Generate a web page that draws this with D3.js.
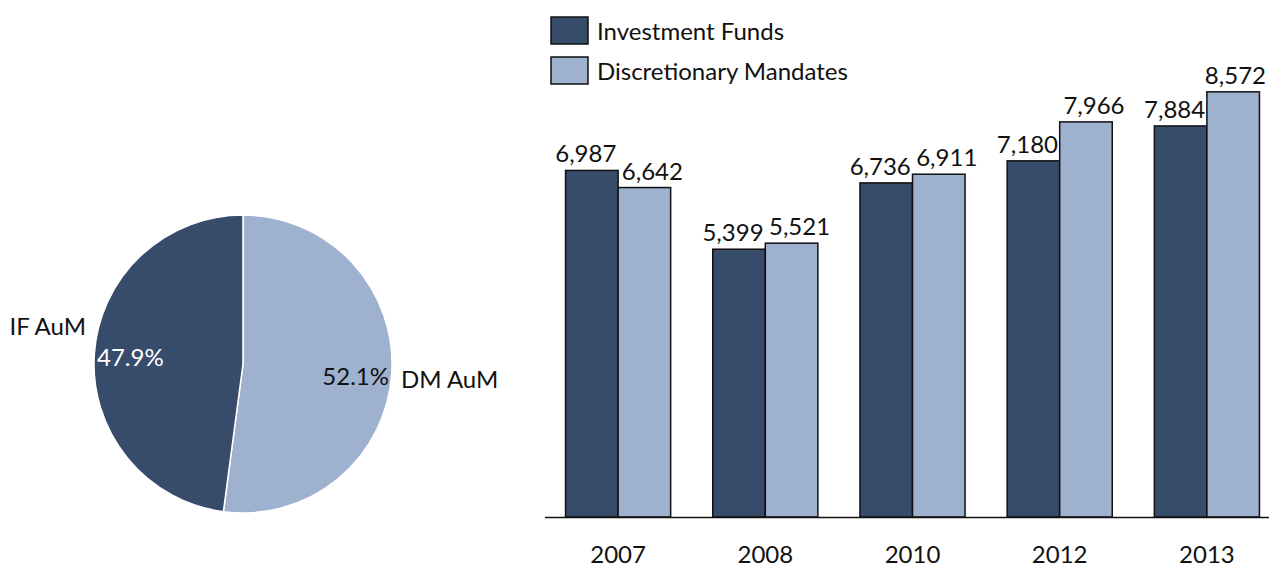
<!DOCTYPE html>
<html><head><meta charset="utf-8">
<script src="https://cdn.jsdelivr.net/npm/d3@7"></script>
<style>body{margin:0;background:#fff}svg{display:block}text{font-family:Lato,"Open Sans",sans-serif;fill:#111}</style>
</head><body><svg id="c" width="1269" height="569"></svg>
<script>
const years = ["2007","2008","2010","2012","2013"];
const investmentFunds = [6987,5399,6736,7180,7884];
const discretionaryMandates = [6642,5521,6911,7966,8572];
const seriesNames = ["Investment Funds","Discretionary Mandates"];
const pieLabels = ["DM AuM","IF AuM"];
const pieValues = [52.1,47.9];
const colors = ["#374b6b","#9eb1cf"];

const W = 1269;
const svg = d3.select("#c");
const fs = 24;

// Bars
const x0 = d3.scaleBand().domain(years).range([544.5,1280.5]).paddingInner(0.286).paddingOuter(0.143);
const x1 = d3.scaleBand().domain([0,1]).range([0,x0.bandwidth()]);
const y = d3.scaleLinear().domain([0,10000]).range([517,21]);
const series = [investmentFunds, discretionaryMandates];
const labelNudge = [-6, 8];

const g = svg.append("g");
years.forEach((yr,i)=>{
  series.forEach((s,k)=>{
    const bx = x0(yr)+x1(k);
    g.append("rect").attr("x",bx).attr("y",y(s[i])).attr("width",x1.bandwidth()).attr("height",y(0)-y(s[i]))
      .attr("fill",colors[k]).attr("stroke","#111").attr("stroke-width",1.5);
    const t = g.append("text").attr("x",bx+x1.bandwidth()/2+labelNudge[k]).attr("y",y(s[i])-8).attr("text-anchor","middle")
      .attr("font-size",24).text(d3.format(",")(s[i]));
    const w = t.node().getComputedTextLength();
    const cx = Math.min(+t.attr("x"), W - w/2 - 3);
    t.attr("x", cx);
  });
});
const ax = svg.append("g").attr("transform","translate(0,517)").call(d3.axisBottom(x0).tickSize(0).tickPadding(29));
ax.select(".domain").attr("stroke","#111").attr("stroke-width",1.5);
ax.selectAll("text").attr("font-size",fs).style("font-family","Lato,'Open Sans',sans-serif").attr("fill","#111");

// Legend
seriesNames.forEach((n,k)=>{
  svg.append("rect").attr("x",551).attr("y",17+k*40).attr("width",37).attr("height",27)
    .attr("fill",colors[k]).attr("stroke","#111").attr("stroke-width",1.5);
  svg.append("text").attr("x",597).attr("y",40+k*40).attr("font-size",fs).text(n);
});

// Pie
const pie = d3.pie().sort(null).value(d=>d);
const arc = d3.arc().innerRadius(0).outerRadius(149);
const pg = svg.append("g").attr("transform","translate(243,364)");
const arcs = pie(pieValues);
pg.selectAll("path").data(arcs).join("path").attr("d",arc)
  .attr("fill",(d,i)=>colors[1-i]).attr("stroke","#fff").attr("stroke-width",1.5);
// DM labels
pg.append("text").attr("x",146).attr("y",21).attr("text-anchor","end").attr("font-size",fs).text(d3.format(".1f")(pieValues[0])+"%");
pg.append("text").attr("x",158).attr("y",24).attr("font-size",fs).text(pieLabels[0]);
// IF labels
pg.append("text").attr("x",-146).attr("y",2).attr("font-size",fs).style("fill","#fff").text(d3.format(".1f")(pieValues[1])+"%");
pg.append("text").attr("x",-157).attr("y",-29).attr("text-anchor","end").attr("font-size",fs).text(pieLabels[1]);
</script></body></html>
